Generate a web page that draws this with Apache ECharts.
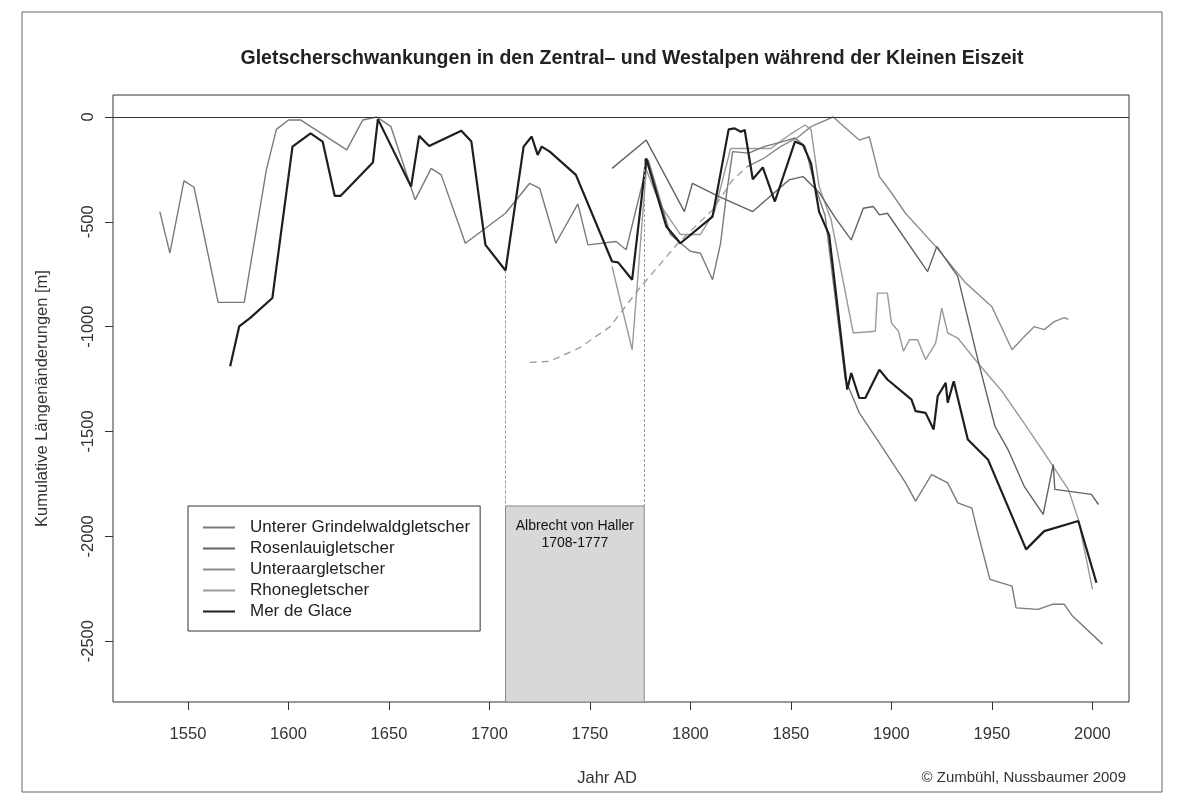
<!DOCTYPE html>
<html><head><meta charset="utf-8">
<script src="https://cdn.jsdelivr.net/npm/echarts@6/dist/echarts.min.js"></script>
<style>html,body{margin:0;padding:0;background:#fff}#c{width:1192px;height:804px}</style>
</head><body><div id="c"></div>
<script>
// ---------- data ----------
const titleText = 'Gletscherschwankungen in den Zentral\u2013 und Westalpen w\u00e4hrend der Kleinen Eiszeit';
const legendNames = ['Unterer Grindelwaldgletscher','Rosenlauigletscher','Unteraargletscher','Rhonegletscher','Mer de Glace'];
const xTicks = [1550,1600,1650,1700,1750,1800,1850,1900,1950,2000];
const yTicks = [0,-500,-1000,-1500,-2000,-2500];

const grindelwaldYears = [1536,1541,1548,1553,1565,1578,1589,1594,1600,1606,1629,1637,1644,1651,1663,1671,1676,1688,1708,1720,1725,1733,1744,1749,1763,1768,1779,1790,1800,1805,1811,1815,1818,1821,1829,1837,1845,1852,1857,1862,1867,1877,1884,1894,1907,1912,1920,1928,1933,1940,1943,1949,1960,1962,1973,1980,1986,1990,2005];
const grindelwaldValues = [-451,-649,-305,-335,-884,-884,-252,-59,-14,-14,-157,-14,0,-46,-395,-245,-276,-602,-459,-316,-340,-602,-414,-610,-594,-633,-205,-560,-640,-650,-776,-602,-364,-165,-172,-140,-120,-100,-140,-330,-470,-1250,-1411,-1554,-1744,-1832,-1705,-1745,-1840,-1865,-1983,-2205,-2237,-2341,-2348,-2324,-2324,-2379,-2514];

const rosenlauiYears = [1761,1778,1797,1801,1814,1831,1849,1856,1864,1872,1880,1886,1891,1894,1898,1918,1922.6,1933,1943,1951.5,1958,1966,1975.5,1980.5,1981.3,1999.5,2003];
const rosenlauiValues = [-245,-110,-451,-316,-379,-451,-300,-284,-360,-480,-586,-435,-427,-467,-459,-737,-617,-760,-1157,-1475,-1586,-1760,-1895,-1657,-1776,-1800,-1848];

const unteraarDashYears = [1720,1730,1745,1760,1774,1794,1811,1821,1828];
const unteraarDashValues = [-1170,-1165,-1100,-1000,-824,-600,-443,-300,-238];
const unteraarYears = [1828,1836,1845,1853,1860,1871,1884,1889,1894,1899,1907,1922,1937,1950,1960,1966,1971,1976,1981,1986,1988];
const unteraarValues = [-238,-200,-140,-100,-46,0,-110,-94,-284,-348,-459,-617,-792,-905,-1110,-1048,-1000,-1014,-976,-957,-965];

const rhoneYears = [1761,1771,1778,1785,1795,1805,1812,1820,1828,1840,1850,1857,1860,1864,1870,1881,1892,1893,1898,1900,1903.5,1906,1909,1913,1917,1922,1925,1928,1933,1943,1955,1966,1976,1988,1993,1996,2000];
const rhoneValues = [-713,-1110,-250,-420,-560,-560,-450,-150,-150,-150,-80,-38,-60,-332,-490,-1030,-1022,-840,-840,-982,-1022,-1117,-1062,-1062,-1157,-1078,-911,-1030,-1054,-1173,-1308,-1460,-1602,-1776,-1919,-2062,-2252];

const merDeGlaceYears = [1571,1575.5,1581,1592,1602,1611,1617,1623,1626,1642,1644.5,1661,1665,1670,1686,1691,1698,1708,1717,1721,1724,1726,1730,1743,1761,1764,1771,1778,1788,1795,1811,1819,1822,1825,1827,1831,1836,1842,1852,1856,1860,1864,1869,1878,1880,1884,1887,1894,1898,1910,1912,1917,1921,1923,1927,1928,1931,1938,1948,1967,1976,1993,2002];
const merDeGlaceValues = [-1189,-998,-958,-863,-141,-78,-117,-376,-376,-217,-10,-332,-90,-138,-65,-117,-610,-732,-141,-93,-181,-141,-165,-276,-689,-693,-776,-197,-522,-602,-475,-59,-54,-70,-62,-297,-240,-403,-117,-133,-221,-451,-562,-1300,-1221,-1340,-1340,-1205,-1252,-1348,-1403,-1411,-1490,-1332,-1268,-1362,-1260,-1538,-1633,-2062,-1975,-1927,-2221];

const hallerYears = [1708,1777];
const hallerLabel = 'Albrecht von Haller\n1708-1777';
const hallerBoxTop = -1855;
const hallerLineTops = [-732,-200];

// ---------- chart ----------
const pairs = (xs, vs) => xs.map((x, i) => [x, vs[i]]);
const FONT = 'Liberation Sans, Arial, Helvetica, sans-serif';
const xMin = 1512.7, xMax = 2018.2, yMin = -2790, yMax = 105;

function lineSeries(name, xs, vs, color, width, extra) {
  return Object.assign({
    name, type: 'line', data: pairs(xs, vs), showSymbol: false, symbol: 'none',
    lineStyle: { color, width }, itemStyle: { color }, z: 3, silent: true, animation: false
  }, extra || {});
}

const chart = echarts.init(document.getElementById('c'), null, { renderer: 'canvas' });
chart.setOption({
  backgroundColor: '#ffffff',
  animation: false,
  title: {
    text: titleText, left: 627, top: 44, textAlign: 'center',
    textStyle: { fontFamily: FONT, fontSize: 19.5, fontWeight: 'bold', color: '#222' }
  },
  grid: { left: 113, right: 63, top: 95, bottom: 102, show: true, borderColor: '#333', borderWidth: 1, backgroundColor: 'transparent' },
  xAxis: {
    type: 'value', min: xMin, max: xMax,
    axisLine: { show: false, onZero: false }, splitLine: { show: false },
    axisTick: { show: true, inside: false, length: 8, customValues: xTicks, lineStyle: { color: '#333' } },
    axisLabel: { customValues: xTicks, margin: 24, fontFamily: FONT, fontSize: 16.5, color: '#333', formatter: v => String(v) }
  },
  yAxis: {
    type: 'value', min: yMin, max: yMax,
    name: 'Kumulative L\u00e4ngen\u00e4nderungen [m]', nameLocation: 'middle', nameGap: 62, nameRotate: 90,
    nameTextStyle: { fontFamily: FONT, fontSize: 16.5, color: '#333' },
    axisLine: { show: false, onZero: false }, splitLine: { show: false },
    axisTick: { show: true, inside: false, length: 8, customValues: yTicks, lineStyle: { color: '#333' } },
    axisLabel: { customValues: yTicks, rotate: 90, margin: 16, fontFamily: FONT, fontSize: 16.5, color: '#333', formatter: v => String(v) }
  },
  legend: {
    data: legendNames.map(n => ({ name: n, icon: 'rect' })), orient: 'vertical', left: 188, top: 506,
    backgroundColor: '#fff', borderColor: '#333', borderWidth: 1, borderRadius: 0,
    padding: [13, 10, 11, 15], itemWidth: 32, itemHeight: 2, itemGap: 4,
    textStyle: { fontFamily: FONT, fontSize: 17, color: '#222', lineHeight: 16, padding: [0, 0, 0, 10] },
    selectedMode: false
  },
  series: [
    {
      name: 'ref', type: 'line', data: [[hallerYears[0], yMin]], showSymbol: false, symbol: 'none', z: 1, silent: true,
      lineStyle: { opacity: 0 },
      markArea: {
        silent: true,
        itemStyle: { color: '#d8d8d8', borderColor: '#8a8a8a', borderWidth: 1 },
        label: { show: true, position: 'insideTop', distance: 12, formatter: hallerLabel, fontFamily: FONT, fontSize: 14, lineHeight: 17, color: '#111' },
        data: [[{ xAxis: hallerYears[0], yAxis: hallerBoxTop }, { xAxis: hallerYears[1], yAxis: yMin }]]
      },
      markLine: {
        silent: true, symbol: 'none', label: { show: false },
        data: [
          { yAxis: 0, lineStyle: { color: '#333', type: 'solid', width: 1 } },
          [{ coord: [hallerYears[0], hallerLineTops[0]], lineStyle: { color: '#999', type: [3, 2], width: 1 } }, { coord: [hallerYears[0], hallerBoxTop] }],
          [{ coord: [hallerYears[1], hallerLineTops[1]], lineStyle: { color: '#999', type: [3, 2], width: 1 } }, { coord: [hallerYears[1], hallerBoxTop] }]
        ]
      }
    },
    lineSeries('Unteraargletscher (gestrichelt)', unteraarDashYears, unteraarDashValues, '#a0a0a0', 1.4, { lineStyle: { color: '#a0a0a0', width: 1.4, type: [7, 5] } }),
    lineSeries(legendNames[2], unteraarYears, unteraarValues, '#8a8a8a', 1.4),
    lineSeries(legendNames[3], rhoneYears, rhoneValues, '#9a9a9a', 1.4),
    lineSeries(legendNames[0], grindelwaldYears, grindelwaldValues, '#7a7a7a', 1.4),
    lineSeries(legendNames[1], rosenlauiYears, rosenlauiValues, '#626262', 1.4),
    lineSeries(legendNames[4], merDeGlaceYears, merDeGlaceValues, '#1e1e1e', 2.2)
  ],
  graphic: [
    { type: 'rect', shape: { x: 22, y: 12, width: 1140, height: 780 }, style: { fill: 'none', stroke: '#666', lineWidth: 1 }, z: -10, silent: true },
    { type: 'text', x: 607, y: 778, style: { text: 'Jahr AD', font: '16.5px ' + FONT, fill: '#333', align: 'center', verticalAlign: 'middle' }, silent: true },
    { type: 'text', x: 1126, y: 778, style: { text: '\u00a9 Zumb\u00fchl, Nussbaumer 2009', font: '15px ' + FONT, fill: '#333', align: 'right', verticalAlign: 'middle' }, silent: true }
  ]
});
</script></body></html>
